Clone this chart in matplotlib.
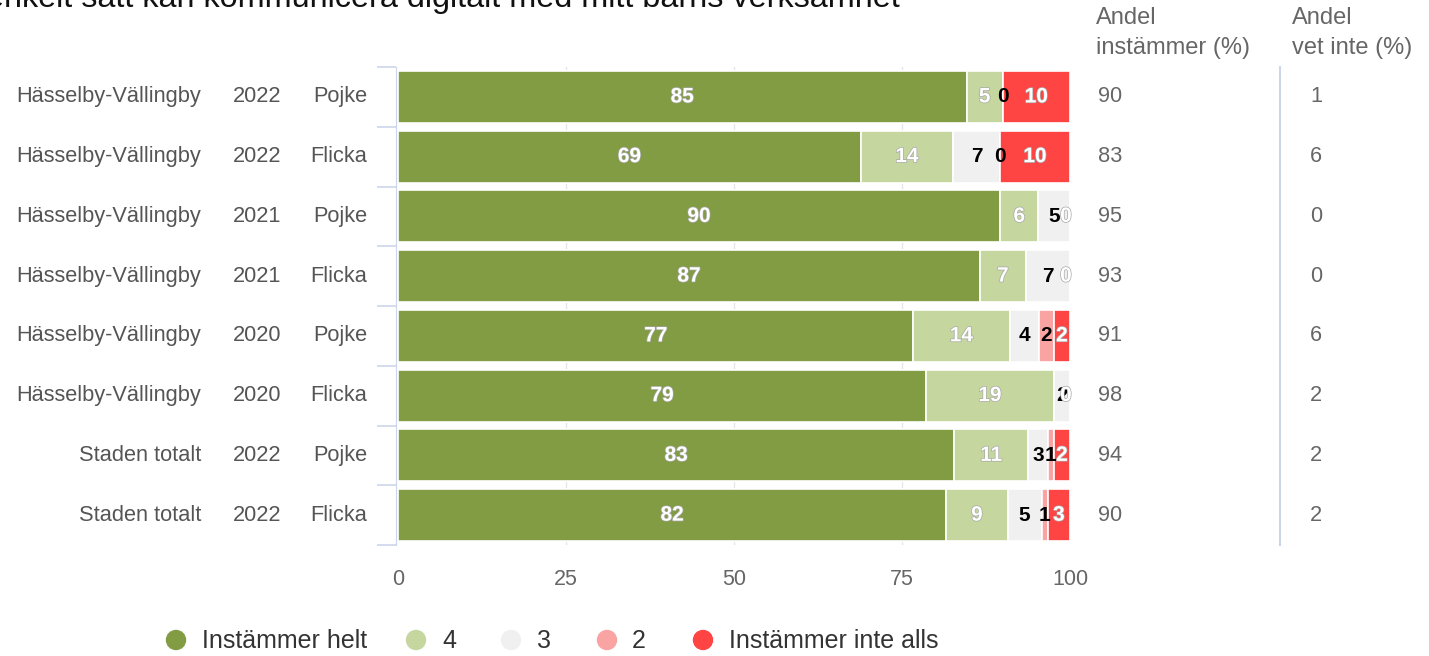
import matplotlib
matplotlib.use("Agg")
import matplotlib.pyplot as plt
import matplotlib.patheffects as pe
from matplotlib.lines import Line2D
from matplotlib.patches import Ellipse

plt.rcParams['font.family'] = ['Liberation Sans', 'DejaVu Sans']

# ---- data ----
areas = ["Hässelby-Vällingby"] * 6 + ["Staden totalt"] * 2
years = ["2022", "2022", "2021", "2021", "2020", "2020", "2022", "2022"]
genders = ["Pojke", "Flicka", "Pojke", "Flicka", "Pojke", "Flicka", "Pojke", "Flicka"]

series_names = ["Instämmer helt", "4", "3", "2", "Instämmer inte alls"]
helt = [84.6, 68.9, 89.6, 86.6, 76.7, 78.6, 82.8, 81.6]
s4 = [5.4, 13.7, 5.7, 6.8, 14.3, 19.0, 11.0, 9.1]
s3 = [0.0, 7.0, 4.7, 6.6, 4.4, 2.4, 2.9, 5.1]
s2 = [0.0, 0.0, 0.0, 0.0, 2.2, 0.0, 0.9, 0.9]
inte_alls = [10.0, 10.4, 0.0, 0.0, 2.4, 0.0, 2.4, 3.3]

andel_instammer = [90, 83, 95, 93, 91, 98, 94, 90]
andel_vet_inte = [1, 6, 0, 0, 6, 2, 2, 2]

title_text = "enkelt sätt kan kommunicera digitalt med mitt barns verksamhet"

colors = ["#829c44", "#c5d69e", "#f0f0f0", "#f9a3a3", "#ff4444"]
label_colors = ["white", "white", "black", "black", "white"]

W, H = 1429, 656
fig = plt.figure(figsize=(W / 100, H / 100), dpi=100)

def fx(px):
    return px / W

def fy(py):
    return 1 - py / H

x0, x1, y0, y1 = 398, 1070, 67, 545
ax = fig.add_axes([fx(x0), fy(y1), fx(x1) - fx(x0), fy(y0) - fy(y1)])

n = len(areas)
ypos = list(range(n))
series = [helt, s4, s3, s2, inte_alls]

ax.set_xlim(0, 100)
ax.set_ylim(n - 0.5, -0.5)
for gx in [25, 50, 75]:
    ax.axvline(gx, color="#e6e6e6", lw=1, zorder=0)

lefts = [0.0] * n
for si, vals in enumerate(series):
    ax.barh(ypos, vals, left=lefts, height=0.87, color=colors[si],
            edgecolor="white", linewidth=1.2, zorder=2)
    lefts = [l + v for l, v in zip(lefts, vals)]

# labels
for i in range(n):
    left = 0.0
    entries = []
    for si, vals in enumerate(series):
        v = vals[i]
        cx = left + v / 2
        entries.append((cx, v, si))
        left += v
    shown = []
    for k, (cx, v, si) in enumerate(entries):
        if v == 0:
            later = [e for e in entries[k + 1:] if e[1] == 0 and abs(e[0] - cx) < 0.01]
            if later:
                continue
        shown.append((cx, v, si))
    for cx, v, si in shown:
        txt = f"{v:.0f}"
        col = label_colors[si]
        xx = min(cx, 99.4)
        if col == "white":
            effects = [pe.withStroke(linewidth=1.0, foreground="#a8a8a8")]
        else:
            effects = []
        ax.text(xx, i, txt, ha="center", va="center", color=col,
                fontsize=15, fontweight="bold", zorder=5, path_effects=effects)

# axes style
for s in ["top", "right", "bottom"]:
    ax.spines[s].set_visible(False)
ax.spines["left"].set_color("#ccd6eb")
ax.spines["left"].set_position(("outward", 1.5))
ax.set_yticks([k - 0.5 for k in range(n + 1)])
ax.set_yticklabels([])
ax.tick_params(axis="y", length=14, color="#ccd6eb", width=1.2)
ax.set_xticks([0, 25, 50, 75, 100])
ax.tick_params(axis="x", length=0, labelsize=15.5, labelcolor="#666666", pad=17)

TS = 15.7
# category labels
for i in range(n):
    yc = y0 + (i + 0.5) * (y1 - y0) / n
    fig.text(fx(201), fy(yc), areas[i], ha="right", va="center", fontsize=TS, color="#555555")
    fig.text(fx(281), fy(yc), years[i], ha="right", va="center", fontsize=TS, color="#555555")
    fig.text(fx(367), fy(yc), genders[i], ha="right", va="center", fontsize=TS, color="#555555")
    fig.text(fx(1098), fy(yc), str(andel_instammer[i]), ha="left", va="center", fontsize=TS, color="#666666")
    fig.text(fx(1316), fy(yc), str(andel_vet_inte[i]), ha="center", va="center", fontsize=TS, color="#666666")

HS = 17
fig.text(fx(1096), fy(18), "Andel", ha="left", va="center", fontsize=HS, color="#666666")
fig.text(fx(1096), fy(48), "instämmer (%)", ha="left", va="center", fontsize=HS, color="#666666")
fig.text(fx(1292), fy(18), "Andel", ha="left", va="center", fontsize=HS, color="#666666")
fig.text(fx(1292), fy(48), "vet inte (%)", ha="left", va="center", fontsize=HS, color="#666666")

fig.add_artist(Line2D([fx(1280), fx(1280)], [fy(67), fy(545)], color="#ccd6eb", lw=1.5))

# title (clipped at top)
fig.text(fx(900), fy(7), title_text, ha="right", va="baseline", fontsize=23.3, color="#111111")

# legend
marker_x = [176, 416, 511, 607, 703]
text_x = [202, 442, 537, 632, 729]
ly = 640
for si in range(5):
    fig.add_artist(Ellipse((fx(marker_x[si]), fy(ly)), width=fx(19), height=19 / H,
                           color=colors[si], transform=fig.transFigure))
    fig.text(fx(text_x[si]), fy(ly + 1), series_names[si], ha="left", va="center",
             fontsize=18, color="#333333")

fig.savefig("out.png", dpi=100)
